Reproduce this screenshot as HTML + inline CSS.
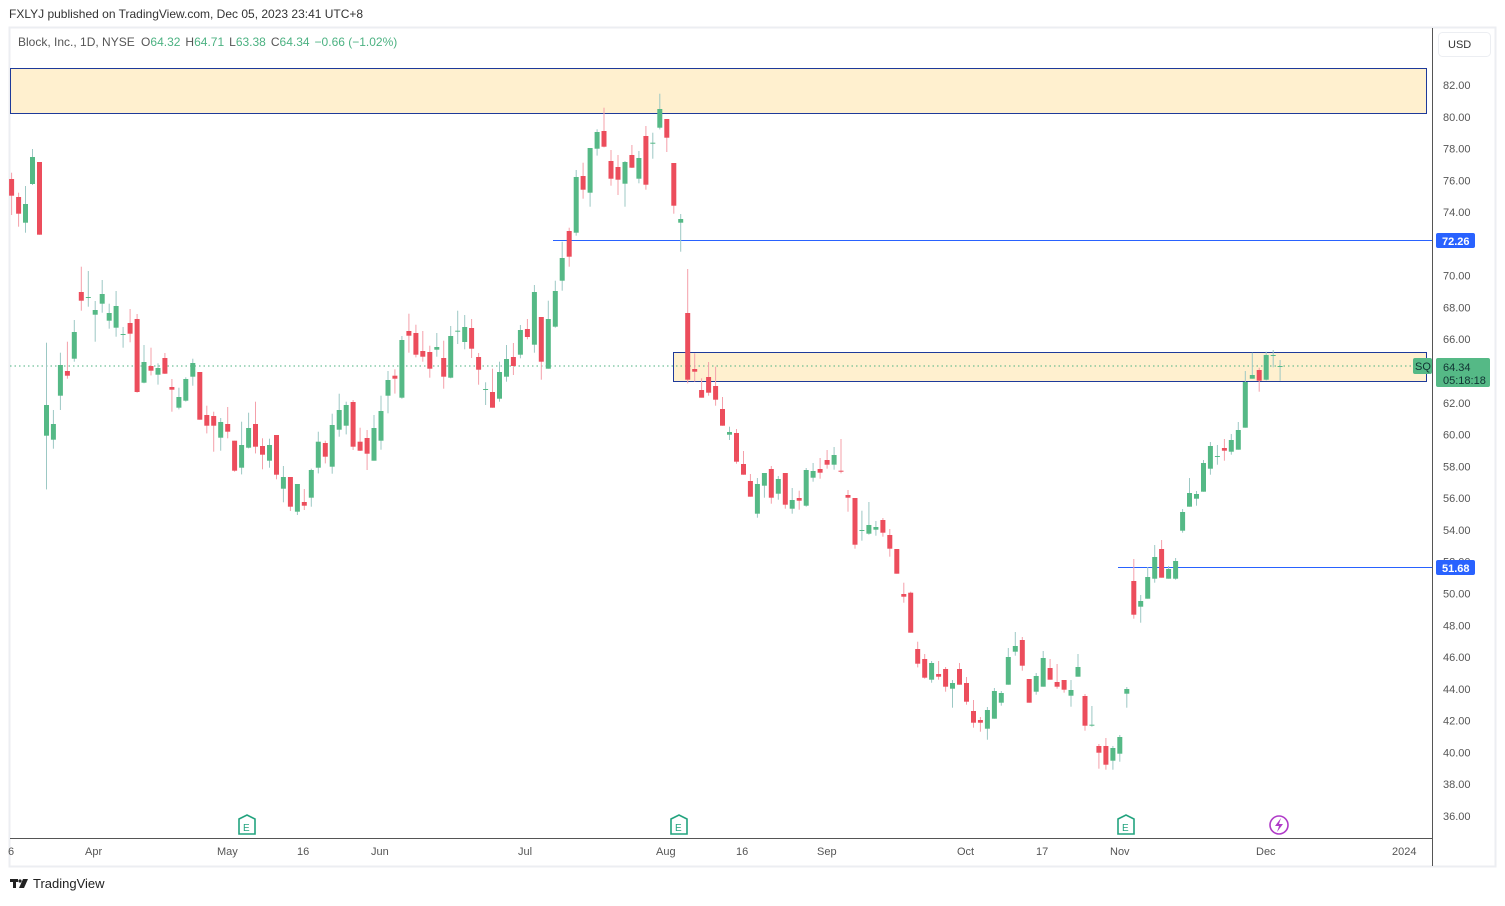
<!DOCTYPE html>
<html><head><meta charset="utf-8"><style>
body{margin:0;background:#fff;font-family:"Liberation Sans",sans-serif;}
svg text{font-family:"Liberation Sans",sans-serif;}
</style></head><body>
<svg id="s" width="1505" height="901" xmlns="http://www.w3.org/2000/svg">
<rect x="0" y="0" width="1505" height="901" fill="#fff"/>
<text x="9" y="18" font-size="12" fill="#333">FXLYJ published on TradingView.com, Dec 05, 2023 23:41 UTC+8</text>
<rect x="9.5" y="27.5" width="1486" height="839" fill="none" stroke="#eceef2" stroke-width="2"/>
<text x="18" y="46" font-size="12" fill="#555">Block, Inc., 1D, NYSE <tspan dx="3">O</tspan><tspan fill="#4cb282">64.32</tspan><tspan dx="5">H</tspan><tspan fill="#4cb282">64.71</tspan><tspan dx="5">L</tspan><tspan fill="#4cb282">63.38</tspan><tspan dx="5">C</tspan><tspan fill="#4cb282">64.34</tspan><tspan dx="5" fill="#4cb282">−0.66 (−1.02%)</tspan></text>
<rect x="10.5" y="68.5" width="1416" height="45" fill="#fff0cf" stroke="#1e3a9a" stroke-width="1"/>
<rect x="673.5" y="352.5" width="753" height="29" fill="#fff0cf" stroke="#1e3a9a" stroke-width="1"/>
<line x1="10" y1="366" x2="1432" y2="366" stroke="#4cb282" stroke-width="1" stroke-dasharray="1.5,3"/>
<line x1="553" y1="240.5" x2="1432" y2="240.5" stroke="#2962ff" stroke-width="1"/>
<line x1="1118" y1="567.5" x2="1432" y2="567.5" stroke="#2962ff" stroke-width="1"/>
<g id="c"></g>
<line x1="1432.5" y1="28" x2="1432.5" y2="866" stroke="#555" stroke-width="1"/>
<line x1="10" y1="838.5" x2="1432" y2="838.5" stroke="#555" stroke-width="1"/>
<rect x="1438.5" y="32.5" width="52" height="24" rx="4" fill="#fff" stroke="#eceef2"/>
<text x="1448" y="48" font-size="11" fill="#333">USD</text>
<g id="p" font-size="11" fill="#555"></g>
<rect x="1436" y="566" width="39" height="15" fill="#fff"/>
<rect x="1436" y="233" width="39" height="15" rx="2" fill="#2962ff"/>
<text x="1442" y="245" font-size="11" font-weight="bold" fill="#fff">72.26</text>
<rect x="1436" y="560" width="39" height="15" rx="2" fill="#2962ff"/>
<text x="1442" y="572" font-size="11" font-weight="bold" fill="#fff">51.68</text>
<rect x="1436" y="358" width="54" height="29" rx="2" fill="#55b986"/>
<text x="1443" y="371" font-size="11" fill="#133">64.34</text>
<text x="1443" y="384" font-size="11" fill="#133">05:18:18</text>
<rect x="1413" y="358" width="19" height="16" rx="2" fill="#55b986"/>
<text x="1415" y="370" font-size="11" fill="#133">SQ</text>
<g font-size="11" fill="#555">
<text x="8" y="855">6</text><text x="85" y="855">Apr</text><text x="217" y="855">May</text><text x="297" y="855">16</text><text x="371" y="855">Jun</text><text x="518" y="855">Jul</text><text x="656" y="855">Aug</text><text x="736" y="855">16</text><text x="817" y="855">Sep</text><text x="957" y="855">Oct</text><text x="1036" y="855">17</text><text x="1110" y="855">Nov</text><text x="1256" y="855">Dec</text><text x="1392" y="855">2024</text>
</g>
<g fill="none" stroke="#22a37e" stroke-width="1.6">
<path d="M239,819 L247,815 L255,819 L255,834 L239,834 Z"/>
<path d="M671,819 L679,815 L687,819 L687,834 L671,834 Z"/>
<path d="M1118,819 L1126,815 L1134,819 L1134,834 L1118,834 Z"/>
</g>
<g font-size="10" fill="#22a37e"><text x="243" y="831">E</text><text x="675" y="831">E</text><text x="1122" y="831">E</text></g>
<circle cx="1279" cy="825" r="9" fill="none" stroke="#b03bc8" stroke-width="1.6"/>
<path d="M1281,818 L1275,826 L1279,826 L1277,832 L1283,824 L1279,824 Z" fill="#b03bc8"/>
<g fill="#222"><rect x="10" y="879" width="8" height="3"/><rect x="13" y="879" width="3" height="9"/><circle cx="20" cy="881" r="1.6"/><path d="M23,879 L28,879 L24,888 L19,888 Z"/></g>
<text x="33" y="888" font-size="13" fill="#222">TradingView</text>
</svg>
<script>
var z1=[
"r 267 317 248 375","r 321 371 308 410","g 342 398 288 428","g 201 282 177 285","r 216 434 216 434","g 945 1037 758 1198","g 1002 1049 960 1076","g 825 917 788 960","r 843 857 755 866","g 726 806 690 815","r 606 632 530 662","d 621 623 543 650","g 660 674 633 755","g 612 641 570 668","g 669 692 641 716","g 648 713 603 740","d 732 734 711 773","r 699 731 657 757","r 687 906 672 908","g 816 878 765 880","r 828 842 773 856","g 834 854 820 884","r 804 851 789 852","r 891 899 867 965","g 921 953 893 958","g 867 932 862 935","g 819 860 806 887","r 846 989 846 989","r 975 1007 947 1030","r 978 1007 965 1085","g 996 1043 984 1082","r 1002 1025 951 1045","r 1052 1142 1052 1145","g 1065 1133 995 1153","g 1014 1073 968 1075","r 1002 1070 935 1090","r 1068 1094 1045 1138","g 1065 1112 1046 1133","r 1035 1154 1035 1168","g 1161 1196 1128 1237","r 1161 1250 1161 1263","g 1182 1265 1182 1275","r 1236 1247 1197 1260","g 1140 1223 1136 1250","g 1055 1133 1025 1150","r 1059 1100 1052 1120","g 1005 1130 971 1151","g 960 1019 911 1040","g 945 1007 935 1033","r 936 1070 930 1080","r 1055 1082 1013 1083","r 1044 1091 1020 1140","g 1014 1112 975 1112","g 963 1052 917 1079","g 870 917 843 970","r 857 866 838 911","g 750 923 738 926","r 723 737 671 788","r 729 794 704 802","r 783 800 723 815","r 786 836 767 863","g 771 779 729 800","r 804 860 752 896","g 738 863 708 865","d 722 724 662 762","g 711 756 675 778","r 714 776 687 804","r 801 839 789 884","d 897 899 877 945","r 906 953 836 953","g 846 926 815 935","g 807 860 765 875","r 801 828 759 855","g 720 794 705 805","r 717 741 687 748","g 606 764 585 788","r 681 815 681 869","g 687 836 632 836","g 603 710 572 713","g 504 572 455 602","r 423 500 413 530","g 261 428 240 437","r 258 299 218 326","g 174 308 174 350","g 126 176 118 197","r 123 170 53 172","r 213 266 180 287","r 231 269 195 315","g 216 281 213 350","r 195 233 165 234","g 204 266 183 280","r 138 284 108 299","d 158 160 128 206","g 57 113 11 118","r 87 143 87 186","r 219 347 219 371","g 387 398 372 485"];
var z2=[
"r 159 359 27 370","r 327 335 280 365","r 390 413 355 413","r 351 398 306 407","r 378 419 320 437","r 447 497 411 497","g 516 524 500 540","r 519 605 507 611","r 612 644 573 644","r 663 710 642 710","g 672 761 654 773","g 639 677 639 713","r 627 713 618 731","g 657 701 648 719","r 639 734 639 746","g 720 746 684 761","r 714 722 692 749","g 630 737 624 740","g 633 653 609 665","r 627 638 594 656","r 600 614 570 626","g 585 614 561 629","r 632 635 537 640","r 705 713 690 755","r 714 854 714 866","d 810 812 752 842","g 795 821 726 824","g 801 809 783 827","r 780 818 774 830","r 825 866 807 890","r 867 941 867 941","r 1002 1010 968 1028","r 998 1118 995 1118","r 1167 1211 1145 1222","r 1197 1253 1182 1256","g 1209 1259 1203 1268","r 1242 1250 1203 1259","r 1227 1280 1221 1295","g 1269 1286 1260 1343","r 1227 1274 1209 1274","r 1269 1325 1251 1334","r 1353 1388 1320 1403","r 1380 1388 1371 1415","g 1350 1406 1341 1439","g 1293 1376 1284 1376","g 1299 1328 1293 1337","g 1191 1274 1164 1274","g 1158 1175 1116 1187","r 1140 1217 1131 1232","r 1257 1328 1257 1328","g 1248 1295 1239 1304","g 1194 1280 1173 1280","r 1224 1259 1197 1259","r 1266 1280 1212 1286","r 1260 1289 1260 1298","g 1290 1307 1260 1340","g 1221 1250 1182 1250","r 1308 1397 1302 1412","d 1394 1396 1338 1400","r 1458 1478 1452 1526","r 1458 1514 1434 1529","g 1464 1502 1458 1529","g 1431 1481 1425 1505","g 1287 1301 1281 1343","r 963 1064 897 1076","g 1023 1040 1005 1088","g 951 1016 921 1016","g 891 956 855 968","r 867 953 840 953","g 927 956 918 956","g 903 956 894 959","g 756 812 747 818","g 699 740 654 740","g 702 716 693 737","g 609 695 600 695","g 558 626 546 644","d 588 590 555 614","r 564 572 537 602","g 540 575 522 584","g 510 569 486 569","g 366 503 333 503","g 345 356 278 356","r 330 362 323 395","g 285 359 275 361","d 285 287 270 322","d 318 320 300 362"];
var out="",i=0;
function add(s,base){var a=s.split(" "),t=a[0],b1=base+a[1]/3,b2=base+a[2]/3,w1=base+a[3]/3,w2=base+a[4]/3;
var x=11.6+i*6.97;var col=t=="r"?"#ec4d5c":"#55b986",wc=t=="r"?"#f4a0aa":"#9cc8c4";
out+='<rect x="'+(x-0.5).toFixed(1)+'" y="'+w1.toFixed(1)+'" width="1" height="'+(w2-w1).toFixed(1)+'" fill="'+wc+'"/>';
var h=Math.max(1,b2-b1);out+='<rect x="'+(x-2.5).toFixed(1)+'" y="'+b1.toFixed(1)+'" width="5" height="'+h.toFixed(1)+'" fill="'+col+'"/>';i++;}
z1.forEach(function(s){add(s,90)});z2.forEach(function(s){add(s,260)});
document.getElementById("c").innerHTML=out;
var p="";for(var v=82;v>=36;v-=2){var y=85+(82-v)*15.89;p+='<text x="1443" y="'+(y+4).toFixed(1)+'">'+v.toFixed(2)+'</text>';}
document.getElementById("p").innerHTML=p;
</script>
</body></html>
